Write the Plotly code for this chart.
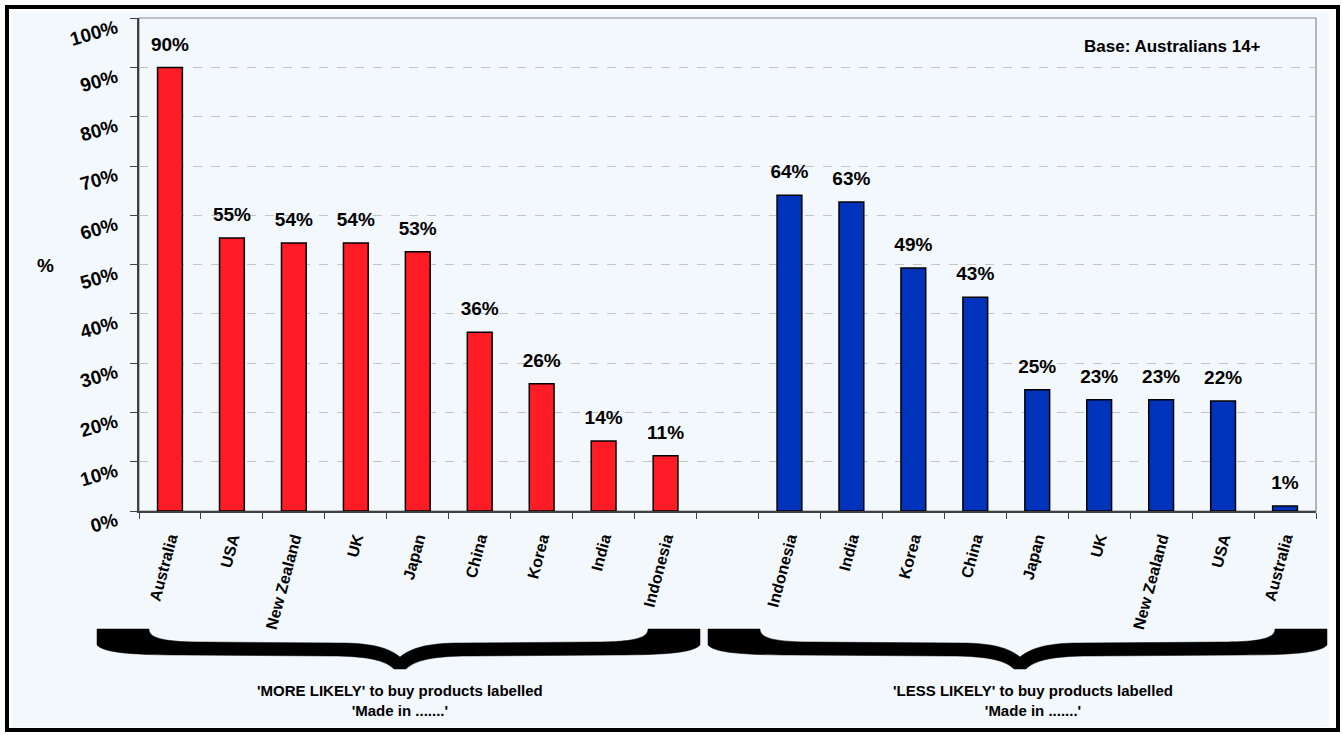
import plotly.graph_objects as go

# ---- data ----
more_countries = ["Australia", "USA", "New Zealand", "UK", "Japan", "China", "Korea", "India", "Indonesia"]
more_values = [90.0, 55.4, 54.4, 54.4, 52.6, 36.3, 25.8, 14.2, 11.2]
less_countries = ["Indonesia", "India", "Korea", "China", "Japan", "UK", "New Zealand", "USA", "Australia"]
less_values = [64.1, 62.7, 49.3, 43.4, 24.6, 22.6, 22.6, 22.3, 1.0]
y_ticks = [0, 10, 20, 30, 40, 50, 60, 70, 80, 90, 100]
y_tick_labels = [f"{v}%" for v in y_ticks]
base_note = "Base: Australians 14+"
group_more = "'MORE LIKELY' to buy products labelled<br>'Made in .......'"
group_less = "'LESS LIKELY' to buy products labelled<br>'Made in .......'"

# positions: 9 categories, one empty slot, 9 categories
x_more = list(range(len(more_countries)))
x_less = [len(more_countries) + 1 + i for i in range(len(less_countries))]
all_x = x_more + [len(more_countries)] + x_less
all_text = more_countries + [""] + less_countries

RED = "#FF1C24"
BLUE = "#0033BB"
BG = "#F3F8FC"
FONT = "Liberation Sans, Arial, sans-serif"

def bfont(size):
    return dict(family=FONT, size=size, color="black", weight="bold")

fig = go.Figure()
for xs, ys, col in [(x_more, more_values, RED), (x_less, less_values, BLUE)]:
    fig.add_trace(go.Bar(
        x=xs, y=ys, marker=dict(color=col, line=dict(color="black", width=1.5)),
        width=0.4, showlegend=False, hoverinfo="x+y",
    ))
    # value labels, drawn just above each bar
    fig.add_trace(go.Scatter(
        x=xs, y=ys, mode="markers+text", texttemplate="%{y:.0f}%", textposition="top center",
        marker=dict(size=18, color="rgba(0,0,0,0)"), textfont=bfont(19),
        cliponaxis=False, showlegend=False, hoverinfo="skip",
    ))

# plot area in pixels
L, R, T, B = 139, 1316, 18, 511
W, H = R - L, B - T
def px(x):
    return (x - L) / W
def py(y):
    return (B - y) / H

shapes = []
shapes.append(dict(type="rect", xref="paper", yref="paper", x0=px(12), x1=px(1329), y0=py(12), y1=py(727),
                   fillcolor=BG, line=dict(width=0), layer="below"))
shapes.append(dict(type="rect", xref="paper", yref="paper", x0=px(7), x1=px(1338), y0=py(7), y1=py(730),
                   fillcolor="rgba(0,0,0,0)", line=dict(color="black", width=4), layer="above"))
shapes.append(dict(type="rect", xref="paper", yref="paper", x0=0, x1=1, y0=0, y1=1,
                   fillcolor="rgba(0,0,0,0)", line=dict(color="#8A8A8A", width=1.2), layer="below"))

def brace(x0, x1, c, top):
    Tt = top
    pts = [
        f"M{px(x0)},{py(Tt)}",
        f"L{px(x0+52)},{py(Tt)}",
        f"C{px(x0+52)},{py(Tt+8)} {px(x0+62)},{py(Tt+13)} {px(x0+105)},{py(Tt+13)}",
        f"L{px(c-60)},{py(Tt+14)}",
        f"C{px(c-25)},{py(Tt+14)} {px(c-10)},{py(Tt+20)} {px(c)},{py(Tt+28)}",
        f"C{px(c+10)},{py(Tt+20)} {px(c+25)},{py(Tt+14)} {px(c+60)},{py(Tt+14)}",
        f"L{px(x1-105)},{py(Tt+13)}",
        f"C{px(x1-62)},{py(Tt+13)} {px(x1-52)},{py(Tt+8)} {px(x1-52)},{py(Tt)}",
        f"L{px(x1)},{py(Tt)}",
        f"L{px(x1)},{py(Tt+16)}",
        f"C{px(x1-6)},{py(Tt+23)} {px(x1-30)},{py(Tt+26)} {px(x1-85)},{py(Tt+26)}",
        f"L{px(c+70)},{py(Tt+27)}",
        f"C{px(c+30)},{py(Tt+27)} {px(c+14)},{py(Tt+32)} {px(c+6)},{py(Tt+40)}",
        f"L{px(c-6)},{py(Tt+40)}",
        f"C{px(c-14)},{py(Tt+32)} {px(c-30)},{py(Tt+27)} {px(c-70)},{py(Tt+27)}",
        f"L{px(x0+85)},{py(Tt+26)}",
        f"C{px(x0+30)},{py(Tt+26)} {px(x0+6)},{py(Tt+23)} {px(x0)},{py(Tt+16)}",
        "Z",
    ]
    return dict(type="path", xref="paper", yref="paper", path=" ".join(pts),
                fillcolor="black", line=dict(color="black", width=0.5), layer="above")

shapes.append(brace(97, 700, 400, 629))
shapes.append(brace(708, 1327, 1020, 629))

def note(text, x, y, size):
    return dict(text=text, xref="paper", yref="paper", x=px(x), y=py(y), showarrow=False,
                xanchor="center", yanchor="middle", font=bfont(size), align="center")

annotations = [
    note(base_note, 1172, 46, 17),
    note("%", 45, 265, 19),
    note(group_more, 400, 700, 15),
    note(group_less, 1033, 700, 15),
]

n = len(all_x)
fig.update_layout(
    width=1343, height=735,
    margin=dict(l=L, r=1343 - R, t=T, b=735 - B),
    paper_bgcolor="white", plot_bgcolor=BG,
    font=dict(family=FONT, color="black"),
    shapes=shapes, annotations=annotations,
    xaxis=dict(
        range=[-0.5, n - 0.5], tickmode="array", tickvals=all_x, ticktext=all_text,
        tickangle=-75, ticks="", showgrid=False, zeroline=False,
        showline=True, linecolor="#404040", linewidth=1.5,
        tickfont=bfont(16), ticklabelstandoff=10,
        minor=dict(tickvals=[i - 0.5 for i in range(n + 1)], ticks="outside", ticklen=6,
                   tickcolor="#404040", tickwidth=1.2, showgrid=False),
    ),
    yaxis=dict(
        range=[0, 100.05], tickmode="array", tickvals=y_ticks, ticktext=y_tick_labels,
        tickangle=-16, ticks="outside", ticklen=7, tickcolor="#404040",
        showline=True, linecolor="#404040", linewidth=1.5, zeroline=False,
        showgrid=True, gridcolor="#C4C4C4", griddash="dash", gridwidth=1,
        tickfont=bfont(19), ticklabelstandoff=10,
        ticklabelshift=8,
    ),
)

fig.write_html("out.html", config={"displayModeBar": False},
               post_script="document.body.style.margin='0';document.body.style.overflow='hidden';")
